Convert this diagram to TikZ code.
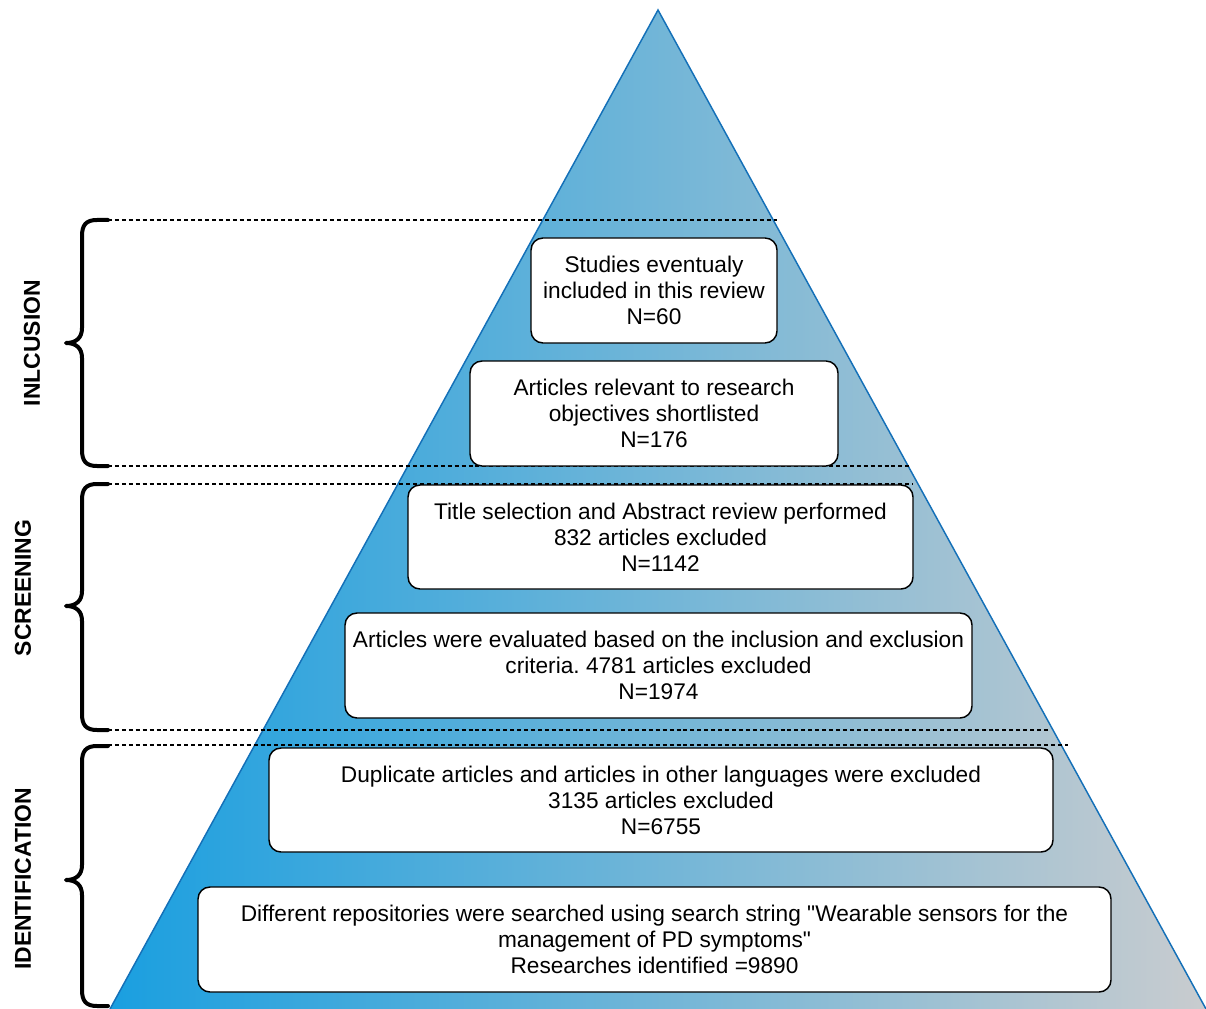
\documentclass[tikz,border=0pt]{standalone}
\usepackage{fontspec}
\setmainfont{Liberation Sans}[Ligatures=TeXOff]
\definecolor{triL}{HTML}{1A9FE0}
\definecolor{triR}{HTML}{C9CCCF}
\definecolor{triEdge}{HTML}{1470B8}
\frenchspacing
\begin{document}
\begin{tikzpicture}[x=0.75pt,y=-0.75pt,
  box/.style={draw=black, fill=white, rounded corners=9pt, line width=1.1pt, align=center,
    font=\fontsize{17}{19.5}\selectfont, inner sep=0pt},
  bracepath/.style={draw=black, line width=3pt, line cap=round, line join=round},
  dashline/.style={draw=black, line width=0.8pt, dash pattern=on 3pt off 2.2pt},
  sidelabel/.style={font=\fontsize{17.2}{20}\selectfont\bfseries, rotate=90}]
\useasboundingbox (0,0) rectangle (1206,1009);
% pyramid
\coordinate (apex) at (658,10);
\coordinate (bl) at (110,1009);
\coordinate (br) at (1206,1009);
\shade[left color=triL, right color=triR] (apex) -- (bl) -- (br) -- cycle;
\draw[triEdge, line width=1.1pt, line join=miter] (bl) -- (apex) -- (br);
% dashed separators
\coordinate (d1a) at (108,220); \coordinate (d1b) at (777,220);
\coordinate (d2a) at (108,466); \coordinate (d2b) at (910,466);
\coordinate (d3a) at (108,484); \coordinate (d3b) at (913,484);
\coordinate (d4a) at (108,730); \coordinate (d4b) at (1050,730);
\coordinate (d5a) at (108,745); \coordinate (d5b) at (1068,745);
\draw[dashline] (d1a) -- (d1b);
\draw[dashline] (d2a) -- (d2b);
\draw[dashline] (d3a) -- (d3b);
\draw[dashline] (d4a) -- (d4b);
\draw[dashline] (d5a) -- (d5b);
% boxes
\node[box, minimum width=184.5pt, minimum height=78.75pt] (b1) at (654,290.5)
  {Studies eventualy\\included in this review\\N=60};
\node[box, minimum width=276pt, minimum height=78.75pt] (b2) at (654,413.5)
  {Articles relevant to research\\objectives shortlisted\\N=176};
\node[box, minimum width=378.75pt, minimum height=78pt] (b3) at (660.5,537)
  {Title selection and Abstract review performed\\832 articles excluded\\N=1142};
\node[box, minimum width=470.25pt, minimum height=78.75pt] (b4) at (658.5,665.5)
  {Articles were evaluated based on the inclusion and exclusion\\criteria. 4781 articles excluded\\N=1974};
\node[box, minimum width=588pt, minimum height=78pt] (b5) at (661,800)
  {Duplicate articles and articles in other languages were excluded\\3135 articles excluded\\N=6755};
\node[box, minimum width=684.75pt, minimum height=78.75pt] (b6) at (654.5,939.5)
  {Different repositories were searched using search string "Wearable sensors for the\\management of PD symptoms"\\Researches identified =9890};
% braces
\draw[bracepath] (108,220) -- (97,220) .. controls (86,220) and (82,225) .. (82,236)
  -- (82,328) .. controls (82,338) and (76,343) .. (66,343)
  .. controls (76,343) and (82,348) .. (82,358)
  -- (82,450) .. controls (82,461) and (86,466) .. (97,466) -- (108,466);
\draw[bracepath] (108,484) -- (97,484) .. controls (86,484) and (82,489) .. (82,500)
  -- (82,591) .. controls (82,601) and (76,606) .. (66,606)
  .. controls (76,606) and (82,611) .. (82,621)
  -- (82,714) .. controls (82,725) and (86,730) .. (97,730) -- (108,730);
\draw[bracepath] (108,746) -- (97,746) .. controls (86,746) and (82,751) .. (82,762)
  -- (82,865) .. controls (82,875) and (76,880) .. (66,880)
  .. controls (76,880) and (82,885) .. (82,895)
  -- (82,990) .. controls (82,1001) and (86,1006) .. (97,1006) -- (108,1006);
% side labels
\node[sidelabel] (linc) at (32,343) {INLCUSION};
\node[sidelabel] (lscr) at (23,588) {SCREENING};
\node[sidelabel] (lide) at (23,879) {IDENTIFICATION};
\end{tikzpicture}
\end{document}
